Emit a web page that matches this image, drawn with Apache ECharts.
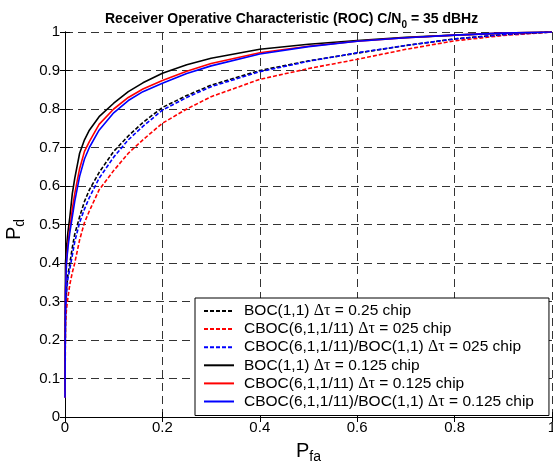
<!DOCTYPE html>
<html>
<head>
<meta charset="utf-8">
<script src="https://cdn.jsdelivr.net/npm/echarts@6/dist/echarts.min.js"></script>
<style>html,body{margin:0;padding:0;background:#fff;}#c{width:553px;height:464px;}</style>
</head>
<body>
<div id="c"></div>
<script>
// False-alarm probabilities (common x grid)
var pfa = [0, 0.001, 0.003, 0.006, 0.01, 0.015, 0.02, 0.03, 0.04, 0.05, 0.07, 0.1, 0.13, 0.16, 0.2, 0.25, 0.3, 0.4, 0.5, 0.6, 0.7, 0.8, 0.9, 1];
// Detection probabilities per curve
var bocDash   = [0.08, 0.28, 0.33, 0.37, 0.40, 0.44, 0.475, 0.52, 0.56, 0.59, 0.635, 0.69, 0.73, 0.765, 0.804, 0.835, 0.862, 0.90, 0.925, 0.945, 0.965, 0.982, 0.993, 1];
var cbocDash  = [0.05, 0.24, 0.28, 0.31, 0.345, 0.375, 0.40, 0.46, 0.505, 0.535, 0.59, 0.64, 0.685, 0.72, 0.763, 0.80, 0.832, 0.877, 0.905, 0.929, 0.955, 0.977, 0.991, 1];
var mixDash   = [0.09, 0.27, 0.32, 0.36, 0.385, 0.42, 0.455, 0.505, 0.54, 0.57, 0.62, 0.675, 0.72, 0.755, 0.797, 0.83, 0.858, 0.897, 0.924, 0.946, 0.965, 0.982, 0.993, 1];
var bocSolid  = [0.07, 0.40, 0.44, 0.48, 0.52, 0.58, 0.62, 0.685, 0.72, 0.745, 0.78, 0.815, 0.845, 0.868, 0.893, 0.915, 0.932, 0.955, 0.968, 0.978, 0.986, 0.992, 0.997, 1];
var cbocSolid = [0.06, 0.33, 0.40, 0.45, 0.49, 0.54, 0.58, 0.645, 0.69, 0.715, 0.76, 0.80, 0.83, 0.852, 0.874, 0.898, 0.918, 0.946, 0.963, 0.976, 0.985, 0.992, 0.997, 1];
var mixSolid  = [0.05, 0.32, 0.40, 0.44, 0.48, 0.52, 0.56, 0.625, 0.67, 0.70, 0.745, 0.79, 0.822, 0.845, 0.867, 0.892, 0.912, 0.943, 0.962, 0.976, 0.985, 0.992, 0.997, 1];
var seriesNames = [
  'BOC(1,1) Δτ = 0.25 chip',
  'CBOC(6,1,1/11) Δτ = 025 chip',
  'CBOC(6,1,1/11)/BOC(1,1) Δτ = 025 chip',
  'BOC(1,1) Δτ = 0.125 chip',
  'CBOC(6,1,1/11) Δτ = 0.125 chip',
  'CBOC(6,1,1/11)/BOC(1,1) Δτ = 0.125 chip'
];
var seriesValues = [bocDash, cbocDash, mixDash, bocSolid, cbocSolid, mixSolid];
var seriesColors = ['#000000', '#ff0000', '#0000ff', '#000000', '#ff0000', '#0000ff'];
var seriesDashed = [true, true, true, false, false, false];
var xTicks = [0, 0.2, 0.4, 0.6, 0.8, 1];
var yTicks = [0, 0.1, 0.2, 0.3, 0.4, 0.5, 0.6, 0.7, 0.8, 0.9, 1];

var FONT = 'Liberation Sans, Arial, sans-serif';
function fmt(v) { return String(Math.round(v * 10) / 10); }

var series = seriesNames.map(function (name, i) {
  return {
    name: name,
    type: 'line',
    symbol: 'none',
    showSymbol: false,
    smooth: false,
    data: pfa.map(function (x, k) { return [x, seriesValues[i][k]]; }),
    lineStyle: { color: seriesColors[i], width: 1.6, type: seriesDashed[i] ? [4, 2] : 'solid' },
    itemStyle: { color: seriesColors[i] }
  };
});

var chart = echarts.init(document.getElementById('c'), null, { renderer: 'canvas' });
chart.setOption({
  animation: false,
  backgroundColor: '#fff',
  title: {
    text: '{a|Receiver Operative Characteristic (ROC) C/N}{b|0}{a| = 35 dBHz}',
    left: 100,
    top: 3,
    textStyle: {
      rich: {
        a: { fontFamily: FONT, fontSize: 14, fontWeight: 'bold', color: '#000', lineHeight: 22, verticalAlign: 'middle' },
        b: { fontFamily: FONT, fontSize: 10, fontWeight: 'bold', color: '#000', lineHeight: 22, verticalAlign: 'bottom' }
      }
    }
  },
  grid: { left: 65, right: 1, top: 32, bottom: 47, containLabel: false, outerBoundsMode: 'none' },
  legend: {
    orient: 'vertical',
    left: 195,
    top: 298,
    itemWidth: 30,
    itemHeight: 14,
    itemGap: 2.1,
    padding: [5, 15, 6, 8],
    backgroundColor: '#fff',
    borderColor: '#000',
    borderWidth: 1,
    borderRadius: 0,
    itemStyle: { opacity: 0 },
    data: seriesNames,
    formatter: function (n) { return n.replace('Δτ', '{g|Δτ}'); },
    textStyle: {
      fontFamily: FONT, fontSize: 15.5, color: '#000', lineHeight: 14, padding: [0, 0, 0, 5],
      rich: { g: { fontFamily: 'Liberation Serif, serif', fontSize: 16, color: '#000', lineHeight: 14 } }
    }
  },
  xAxis: [{
    type: 'value', min: 0, max: 1, interval: 0.2, position: 'bottom',
    name: '{a|P}{b|fa}', nameLocation: 'middle', nameGap: 21,
    nameTextStyle: { rich: {
      a: { fontFamily: FONT, fontSize: 20, color: '#000', lineHeight: 26, verticalAlign: 'middle' },
      b: { fontFamily: FONT, fontSize: 14, color: '#000', lineHeight: 26, verticalAlign: 'bottom' }
    } },
    axisLine: { show: true, lineStyle: { color: '#000', width: 1 } },
    axisTick: { show: true, inside: true, length: 5, lineStyle: { color: '#000' } },
    axisLabel: { fontFamily: FONT, fontSize: 15, color: '#000', margin: 3, formatter: fmt, showMaxLabel: true, showMinLabel: true },
    splitLine: { show: true, lineStyle: { color: '#333', width: 1, type: [8, 5] } }
  }, {
    type: 'value', min: 0, max: 1, interval: 0.2, position: 'top',
    axisLine: { show: true, lineStyle: { color: '#000', width: 1 } },
    axisTick: { show: true, inside: true, length: 5, lineStyle: { color: '#000' } },
    axisLabel: { show: false }, splitLine: { show: false }
  }],
  yAxis: [{
    type: 'value', min: 0, max: 1, interval: 0.1, position: 'left',
    name: '{a|P}{b|d}', nameLocation: 'middle', nameGap: 38,
    nameTextStyle: { padding: [0, 10, 0, 0], rich: {
      a: { fontFamily: FONT, fontSize: 20, color: '#000', lineHeight: 26, verticalAlign: 'middle' },
      b: { fontFamily: FONT, fontSize: 14, color: '#000', lineHeight: 26, verticalAlign: 'bottom' }
    } },
    axisLine: { show: true, lineStyle: { color: '#000', width: 1 } },
    axisTick: { show: true, inside: true, length: 5, lineStyle: { color: '#000' } },
    axisLabel: { fontFamily: FONT, fontSize: 15, color: '#000', margin: 5, formatter: fmt },
    splitLine: { show: true, lineStyle: { color: '#333', width: 1, type: [8, 5] } }
  }, {
    type: 'value', min: 0, max: 1, interval: 0.1, position: 'right',
    axisLine: { show: true, lineStyle: { color: '#000', width: 1 } },
    axisTick: { show: true, inside: true, length: 5, lineStyle: { color: '#000' } },
    axisLabel: { show: false }, splitLine: { show: false }
  }],
  series: series
});
</script>
</body>
</html>
